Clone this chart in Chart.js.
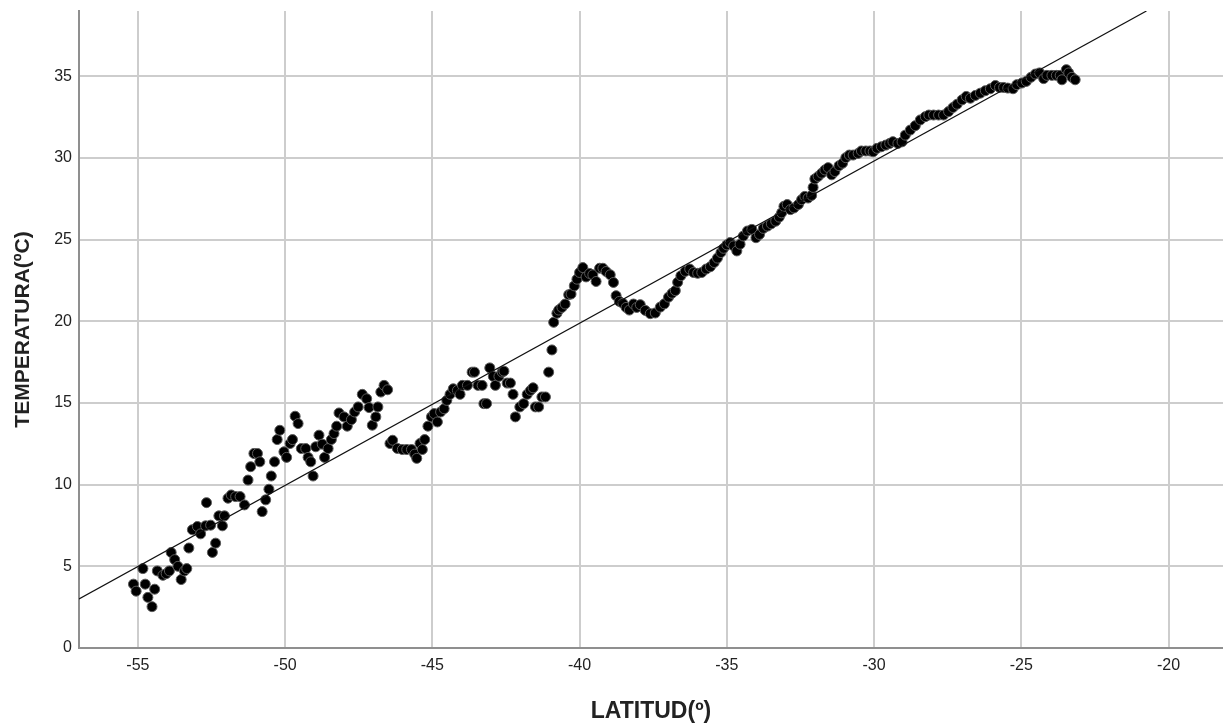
<!DOCTYPE html>
<html>
<head>
<meta charset="utf-8">
<title>Temperatura vs Latitud</title>
<script src="https://cdn.jsdelivr.net/npm/chart.js@4/dist/chart.umd.min.js"></script>
<style>
  html, body { margin: 0; padding: 0; background: #fff; }
  canvas { display: block; }
</style>
</head>
<body>
<canvas id="chart" width="1223" height="725"></canvas>
<script>
// Latitud (º) de cada observación
const latitud = [
  -55.15, -55.06, -54.83, -54.75, -54.66, -54.52, -54.43, -54.34, -54.15, -54.04,
  -53.93, -53.87, -53.75, -53.64, -53.53, -53.42, -53.34, -53.27, -53.15, -52.98,
  -52.87, -52.70, -52.67, -52.53, -52.47, -52.36, -52.25, -52.13, -52.06, -51.94,
  -51.83, -51.68, -51.53, -51.38, -51.26, -51.17, -51.06, -50.94, -50.86, -50.78,
  -50.66, -50.55, -50.47, -50.36, -50.27, -50.18, -50.04, -49.95, -49.83, -49.75,
  -49.66, -49.56, -49.45, -49.30, -49.22, -49.13, -49.05, -48.96, -48.85, -48.74,
  -48.66, -48.54, -48.43, -48.34, -48.25, -48.17, -48.00, -47.89, -47.75, -47.64,
  -47.52, -47.38, -47.23, -47.15, -47.04, -46.92, -46.85, -46.75, -46.64, -46.52,
  -46.44, -46.35, -46.19, -46.02, -45.87, -45.71, -45.60, -45.53, -45.42, -45.34,
  -45.26, -45.15, -45.03, -44.94, -44.83, -44.72, -44.60, -44.51, -44.40, -44.29,
  -44.15, -44.06, -43.98, -43.81, -43.65, -43.57, -43.45, -43.31, -43.25, -43.16,
  -43.05, -42.93, -42.86, -42.74, -42.63, -42.57, -42.46, -42.35, -42.26, -42.18,
  -42.03, -41.90, -41.78, -41.67, -41.58, -41.50, -41.39, -41.28, -41.16, -41.05,
  -40.94, -40.88, -40.77, -40.71, -40.60, -40.49, -40.37, -40.29, -40.18, -40.09,
  -40.00, -39.89, -39.78, -39.66, -39.55, -39.44, -39.32, -39.21, -39.10, -38.96,
  -38.85, -38.76, -38.65, -38.53, -38.42, -38.31, -38.17, -38.06, -37.94, -37.77,
  -37.60, -37.43, -37.26, -37.12, -36.98, -36.86, -36.75, -36.67, -36.56, -36.41,
  -36.26, -36.13, -35.99, -35.85, -35.70, -35.56, -35.43, -35.32, -35.20, -35.11,
  -35.00, -34.89, -34.77, -34.66, -34.55, -34.44, -34.30, -34.15, -34.01, -33.89,
  -33.76, -33.62, -33.49, -33.34, -33.22, -33.14, -33.06, -32.95, -32.84, -32.72,
  -32.57, -32.46, -32.35, -32.24, -32.12, -32.07, -32.01, -31.90, -31.78, -31.67,
  -31.56, -31.44, -31.33, -31.19, -31.07, -30.96, -30.84, -30.71, -30.54, -30.43,
  -30.28, -30.14, -30.03, -29.90, -29.75, -29.60, -29.47, -29.36, -29.19, -29.05,
  -28.94, -28.77, -28.60, -28.43, -28.26, -28.14, -27.98, -27.81, -27.64, -27.47,
  -27.32, -27.18, -27.01, -26.87, -26.73, -26.56, -26.39, -26.22, -26.05, -25.88,
  -25.74, -25.60, -25.46, -25.28, -25.15, -24.98, -24.83, -24.67, -24.52, -24.38,
  -24.24, -24.13, -23.96, -23.81, -23.68, -23.62, -23.47, -23.39, -23.28, -23.17
];

// Temperatura (ºC) de cada observación
const temperatura = [
   3.91,  3.48,  4.86,  3.91,  3.10,  2.53,  3.60,  4.72,  4.45,  4.55,
   4.72,  5.85,  5.41,  5.00,  4.19,  4.72,  4.86,  6.12,  7.24,  7.44,
   6.99,  7.48,  8.90,  7.52,  5.85,  6.42,  8.09,  7.48,  8.09,  9.17,
   9.37,  9.27,  9.27,  8.76, 10.28, 11.10, 11.91, 11.91, 11.40,  8.35,
   9.07,  9.72, 10.53, 11.40, 12.76, 13.33, 12.01, 11.67, 12.52, 12.76,
  14.19, 13.74, 12.21, 12.21, 11.67, 11.40, 10.53, 12.32, 13.03, 12.48,
  11.67, 12.21, 12.76, 13.13, 13.58, 14.39, 14.15, 13.58, 13.98, 14.45,
  14.76, 15.53, 15.26, 14.72, 13.64, 14.15, 14.76, 15.67, 16.08, 15.81,
  12.52, 12.72, 12.22, 12.15, 12.15, 12.15, 11.87, 11.61, 12.52, 12.15,
  12.76, 13.58, 14.15, 14.35, 13.84, 14.45, 14.65, 15.16, 15.53, 15.87,
  15.77, 15.53, 16.08, 16.08, 16.89, 16.89, 16.08, 16.08, 14.96, 14.96,
  17.15, 16.63, 16.08, 16.63, 16.89, 16.95, 16.22, 16.22, 15.53, 14.15,
  14.76, 14.96, 15.53, 15.77, 15.93, 14.76, 14.76, 15.37, 15.37, 16.89,
  18.25, 19.94, 20.49, 20.69, 20.85, 21.06, 21.63, 21.67, 22.17, 22.58,
  22.99, 23.29, 22.72, 22.93, 22.85, 22.44, 23.25, 23.25, 23.05, 22.85,
  22.38, 21.57, 21.22, 21.10, 20.85, 20.69, 21.06, 20.85, 21.02, 20.67,
  20.47, 20.51, 20.87, 21.07, 21.48, 21.72, 21.88, 22.39, 22.79, 23.06,
  23.20, 22.99, 22.94, 22.99, 23.20, 23.34, 23.60, 23.87, 24.21, 24.47,
  24.68, 24.82, 24.62, 24.31, 24.72, 25.22, 25.53, 25.63, 25.12, 25.32,
  25.69, 25.83, 25.97, 26.13, 26.38, 26.64, 27.04, 27.15, 26.84, 26.94,
  27.15, 27.45, 27.65, 27.55, 27.71, 28.20, 28.72, 28.87, 29.07, 29.27,
  29.41, 28.97, 29.17, 29.53, 29.68, 30.02, 30.18, 30.18, 30.28, 30.43,
  30.43, 30.43, 30.38, 30.59, 30.69, 30.79, 30.89, 31.00, 30.89, 30.99,
  31.40, 31.71, 31.98, 32.33, 32.53, 32.63, 32.63, 32.63, 32.63, 32.84,
  33.09, 33.29, 33.56, 33.77, 33.66, 33.83, 33.97, 34.12, 34.24, 34.44,
  34.32, 34.32, 34.28, 34.24, 34.49, 34.59, 34.69, 34.94, 35.14, 35.21,
  34.86, 35.06, 35.06, 35.06, 35.06, 34.79, 35.41, 35.21, 34.94, 34.79
];

// Recta de ajuste (extremos)
const ajusteX = [-57.0, -20.75];
const ajusteY = [3.0, 39.0];

// Marcas de los ejes
const ticksX = [-55, -50, -45, -40, -35, -30, -25, -20];
const ticksY = [0, 5, 10, 15, 20, 25, 30, 35];

const puntos = latitud.map((lat, i) => ({ x: lat, y: temperatura[i] }));
const recta = ajusteX.map((x, i) => ({ x: x, y: ajusteY[i] }));

const fuente = 'Liberation Sans, Arial, sans-serif';
const colorTexto = '#222';
const colorRejilla = '#cdcdcd';
const colorEje = '#8f8f8f';

const ctx = document.getElementById('chart').getContext('2d');
new Chart(ctx, {
    type: 'scatter',
    data: {
        datasets: [
            {
                // recta dibujada por encima de los puntos
                type: 'line',
                data: recta,
                borderColor: '#111',
                borderWidth: 1.2,
                pointRadius: 0,
                fill: false,
                order: 0
            },
            {
                data: puntos,
                backgroundColor: '#000',
                borderColor: '#5a5a5a',
                borderWidth: 1,
                pointRadius: 5,
                order: 1
            }
        ]
    },
    options: {
        responsive: false,
        animation: false,
        layout: {
            autoPadding: false,
            padding: { top: 11, right: 0, bottom: 0, left: 0 }
        },
        plugins: {
            legend: { display: false },
            tooltip: { enabled: false }
        },
        scales: {
            x: {
                type: 'linear',
                min: -57,
                max: -18.15,
                afterBuildTicks: scale => { scale.ticks = ticksX.map(v => ({ value: v })); },
                afterFit: scale => {
                    scale.height = 77;
                    scale.paddingLeft = 0;
                    scale.paddingRight = 0;
                },
                grid: { color: colorRejilla, lineWidth: 2, drawTicks: false },
                border: { color: colorEje, width: 2 },
                ticks: {
                    color: colorTexto,
                    padding: 8,
                    maxRotation: 0,
                    font: { family: fuente, size: 16 }
                },
                title: {
                    display: true,
                    text: 'LATITUD(º)',
                    color: colorTexto,
                    padding: { top: 0, bottom: 0 },
                    font: { family: fuente, size: 23, weight: 'bold' }
                }
            },
            y: {
                type: 'linear',
                min: 0,
                max: 39,
                afterBuildTicks: scale => { scale.ticks = ticksY.map(v => ({ value: v })); },
                afterFit: scale => {
                    // ancho fijo del eje y sin margen extra arriba/abajo
                    scale.width = 79;
                    scale.paddingTop = 0;
                    scale.paddingBottom = 0;
                },
                grid: { color: colorRejilla, lineWidth: 2, drawTicks: false },
                border: { color: colorEje, width: 2 },
                ticks: {
                    color: colorTexto,
                    padding: 7,
                    font: { family: fuente, size: 16 }
                },
                title: {
                    display: true,
                    text: 'TEMPERATURA(ºC)',
                    color: colorTexto,
                    padding: { top: 11, bottom: 0 },
                    font: { family: fuente, size: 21, weight: 'bold' }
                }
            }
        }
    }
});
</script>
</body>
</html>
